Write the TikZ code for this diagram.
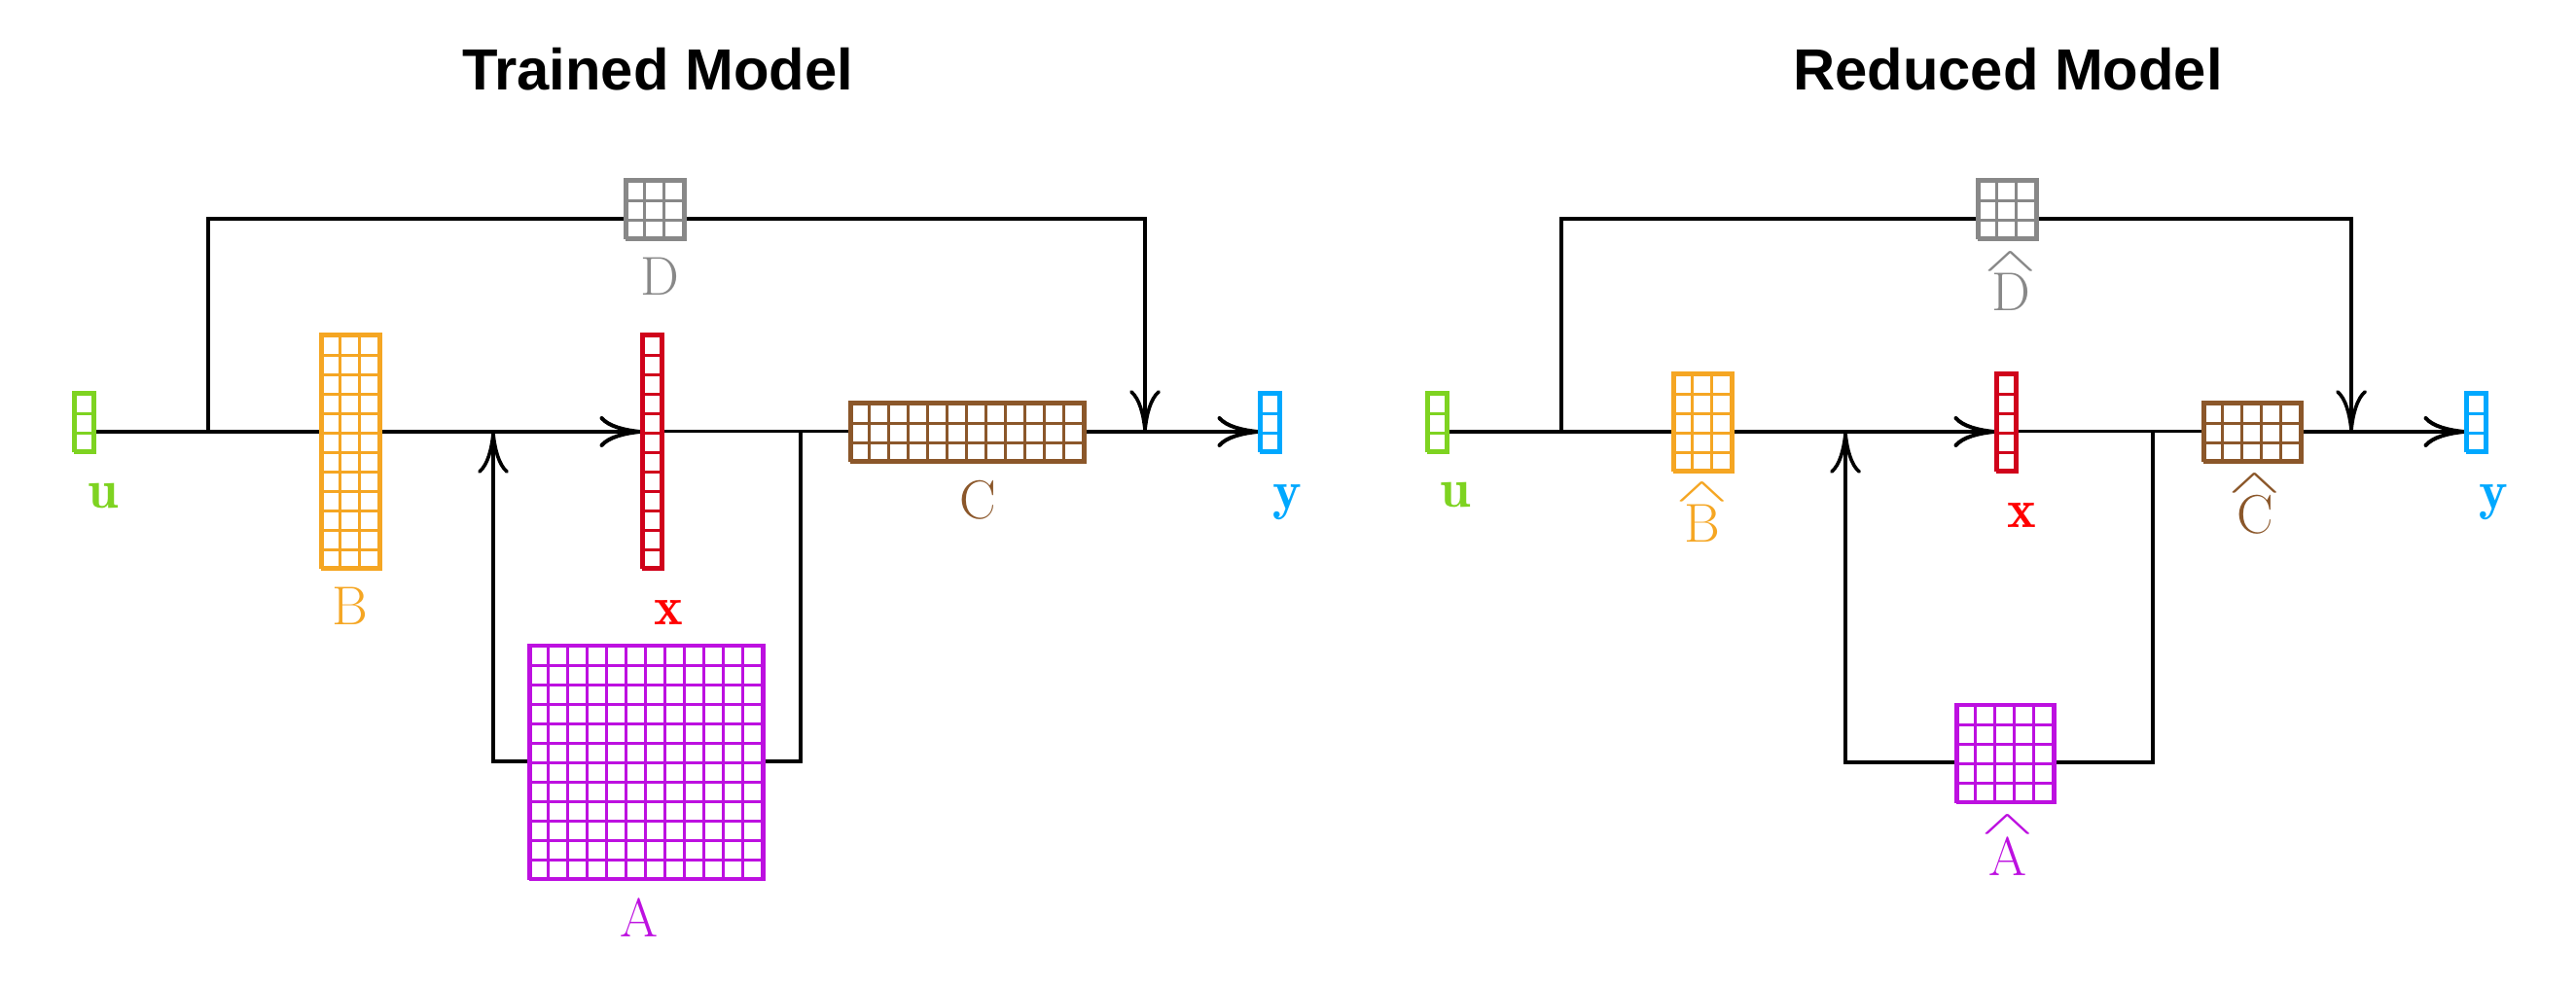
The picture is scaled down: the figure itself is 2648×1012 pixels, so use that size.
\documentclass[tikz,border=0pt]{standalone}
\usepackage{amsmath}
\usepackage{amssymb}
\usepackage{graphicx}
\usepackage{fontspec}
\newfontfamily\titlefont{Liberation Sans}
\usetikzlibrary{arrows.meta, positioning, backgrounds}
\definecolor{colu}{HTML}{7ED321}
\definecolor{colB}{HTML}{F5A623}
\definecolor{colx}{HTML}{D0021B}
\definecolor{colC}{HTML}{8B572A}
\definecolor{colD}{HTML}{888888}
\definecolor{colA}{HTML}{BD10E0}
\definecolor{coly}{HTML}{00A8FF}
\newcommand{\matcells}[4]{%
	\foreach \k in {0,...,#2} \draw[#4, line width=0.3mm] ([xshift=\k*2mm]#1.south west) -- ([xshift=\k*2mm]#1.north west);
	\foreach \k in {0,...,#3} \draw[#4, line width=0.3mm] ([yshift=\k*2mm]#1.south west) -- ([yshift=\k*2mm]#1.south east);
}
\newcommand{\hatlbl}[1]{\vbox{\offinterlineskip\halign{\hfil##\hfil\cr\scalebox{1.35}[0.55]{$\wedge$}\cr\noalign{\kern0.3mm}#1\cr}}}
\tikzstyle{mat} = [draw, fill=white, line width=0.3mm, inner sep=0pt]
\tikzstyle{lbl} = [anchor=base, inner sep=0pt, font=\fontsize{16}{19}\selectfont]
\tikzstyle{ttl} = [anchor=base, inner sep=0pt, font=\titlefont\bfseries\fontsize{17}{20}\selectfont]
\tikzstyle{sig} = [line width=0.4mm]
\tikzstyle{wire} = [line width=0.36mm]
\tikzstyle{thinwire} = [line width=0.3mm]
\tikzstyle{flow} = [-{Computer Modern Rightarrow[length=4.3mm,width=3.2mm]}]

\begin{document}
\begin{tikzpicture}[x=0.1mm, y=0.1mm]
	\useasboundingbox (0,0) rectangle (2648,1012);

	% trained model
	\node[ttl] (ttlL) at (676,919) {Trained Model};
	\node[mat, draw=colu, minimum width=2mm, minimum height=6mm] (uL) at (87,578) {};
	\node[mat, draw=colB, minimum width=6mm, minimum height=24mm] (BL) at (361,548) {};
	\node[mat, draw=colx, minimum width=2mm, minimum height=24mm] (xL) at (671,548) {};
	\node[mat, draw=colD, minimum width=6mm, minimum height=6mm] (DL) at (674,797) {};
	\node[mat, draw=colC, minimum width=24mm, minimum height=6mm] (CL) at (995,568) {};
	\node[mat, draw=colA, minimum width=24mm, minimum height=24mm] (AL) at (665,229) {};
	\node[mat, draw=coly, minimum width=2mm, minimum height=6mm] (yL) at (1306,578) {};
	\matcells{uL}{1}{3}{colu}
	\matcells{BL}{3}{12}{colB}
	\matcells{xL}{1}{12}{colx}
	\matcells{DL}{3}{3}{colD}
	\matcells{CL}{12}{3}{colC}
	\matcells{AL}{12}{12}{colA}
	\matcells{yL}{1}{3}{coly}
	\node[lbl, text=colu] (labuL) at (106,489) {$\mathbf{u}$};
	\node[lbl, text=colB] (labBL) at (360,369) {B};
	\node[lbl, text=red] (labxL) at (687,369) {$\mathbf{x}$};
	\node[lbl, text=colD] (labDL) at (678,708) {D};
	\node[lbl, text=colC] (labCL) at (1005,478) {C};
	\node[lbl, text=colA] (labAL) at (657,49) {A};
	\node[lbl, text=coly] (labyL) at (1323,488) {$\mathbf{y}$};
	\coordinate (brL) at (214,568);
	\coordinate (jnL) at (1177,568);
	\coordinate (fiL) at (507,568);
	\coordinate (fbL) at (823,568);

	% reduced model
	\node[ttl] (ttlR) at (2064,919) {Reduced Model};
	\node[mat, draw=colu, minimum width=2mm, minimum height=6mm] (uR) at (1478,578) {};
	\node[mat, draw=colB, minimum width=6mm, minimum height=10mm] (BR) at (1751,578) {};
	\node[mat, draw=colx, minimum width=2mm, minimum height=10mm] (xR) at (2063,578) {};
	\node[mat, draw=colD, minimum width=6mm, minimum height=6mm] (DR) at (2064,797) {};
	\node[mat, draw=colC, minimum width=10mm, minimum height=6mm] (CR) at (2316,568) {};
	\node[mat, draw=colA, minimum width=10mm, minimum height=10mm] (AR) at (2062,238) {};
	\node[mat, draw=coly, minimum width=2mm, minimum height=6mm] (yR) at (2546,578) {};
	\matcells{uR}{1}{3}{colu}
	\matcells{BR}{3}{5}{colB}
	\matcells{xR}{1}{5}{colx}
	\matcells{DR}{3}{3}{colD}
	\matcells{CR}{5}{3}{colC}
	\matcells{AR}{5}{5}{colA}
	\matcells{yR}{1}{3}{coly}
	\node[lbl, text=colu] (labuR) at (1496,490) {$\mathbf{u}$};
	\node[lbl, text=colB] (labBR) at (1750,455) {\hatlbl{B}};
	\node[lbl, text=red] (labxR) at (2078,469) {$\mathbf{x}$};
	\node[lbl, text=colD] (labDR) at (2067,692) {\hatlbl{D}};
	\node[lbl, text=colC] (labCR) at (2318,463) {\hatlbl{C}};
	\node[lbl, text=colA] (labAR) at (2064,112) {\hatlbl{A}};
	\node[lbl, text=coly] (labyR) at (2563,488) {$\mathbf{y}$};
	\coordinate (brR) at (1605,568);
	\coordinate (jnR) at (2417,568);
	\coordinate (fiR) at (1897,568);
	\coordinate (fbR) at (2213,568);

	\begin{scope}[on background layer]
		\draw[sig, flow] (uL.east |- CL) -- (xL.west |- CL);
		\draw[thinwire] (xL.east |- CL) -- (CL.west);
		\draw[sig, flow] (CL.east) -- (yL.west |- CL);
		\draw[wire, flow] (brL) |- ([yshift=-1mm]DL.center) -| (jnL);
		\draw[wire, flow] (fbL) |- (AL.center) -| (fiL);

		\draw[sig, flow] (uR.east |- CR) -- (xR.west |- CR);
		\draw[thinwire] (xR.east |- CR) -- (CR.west);
		\draw[sig, flow] (CR.east) -- (yR.west |- CR);
		\draw[wire, flow] (brR) |- ([yshift=-1mm]DR.center) -| (jnR);
		\draw[wire, flow] (fbR) |- ([yshift=-1mm]AR.center) -| (fiR);
	\end{scope}
\end{tikzpicture}
\end{document}
